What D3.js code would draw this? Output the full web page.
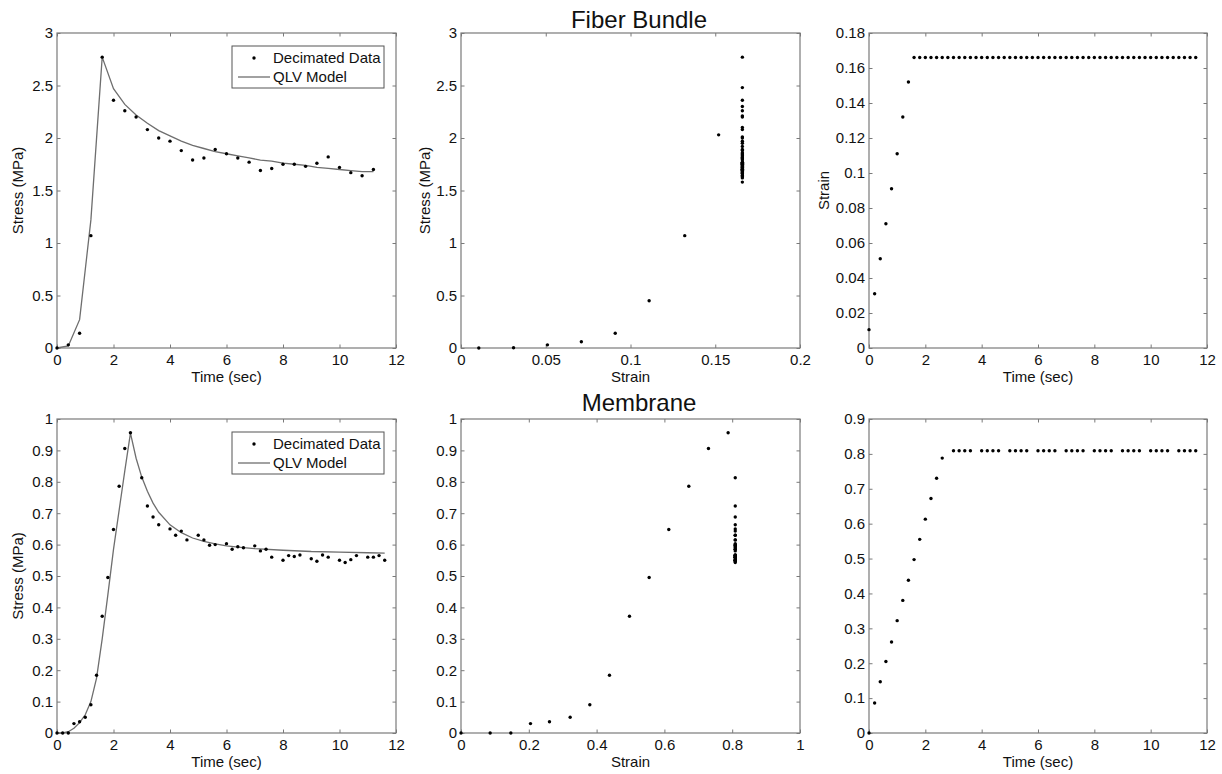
<!DOCTYPE html>
<html>
<head>
<meta charset="utf-8">
<script src="https://cdn.jsdelivr.net/npm/d3@7"></script>
<style>
    body { margin: 0; background: #fff; }
    svg text { font-family: Arial, "Liberation Sans", sans-serif; fill: #111; }
</style>
</head>
<body>
<div id="chart"></div>
<script>

// ---------- tick labels ----------
const timeTicks = [0, 2, 4, 6, 8, 10, 12];
const fiberStressTicks = [0, 0.5, 1, 1.5, 2, 2.5, 3];
const fiberStrainTicks = [0, 0.05, 0.1, 0.15, 0.2];
const fiberStrainYTicks = [0, 0.02, 0.04, 0.06, 0.08, 0.1, 0.12, 0.14, 0.16, 0.18];
const memStressTicks = [0, 0.1, 0.2, 0.3, 0.4, 0.5, 0.6, 0.7, 0.8, 0.9, 1];
const memStrainTicks = [0, 0.2, 0.4, 0.6, 0.8, 1];
const memStrainYTicks = [0, 0.1, 0.2, 0.3, 0.4, 0.5, 0.6, 0.7, 0.8, 0.9];

// ---------- fiber bundle ----------
// full record, sampled every 0.2 s
const fiberTime = [0, 0.2, 0.4, 0.6, 0.8, 1, 1.2, 1.4, 1.6, 1.8, 2, 2.2, 2.4, 2.6, 2.8, 3, 3.2, 3.4, 3.6, 3.8,
    4, 4.2, 4.4, 4.6, 4.8, 5, 5.2, 5.4, 5.6, 5.8, 6, 6.2, 6.4, 6.6, 6.8, 7, 7.2, 7.4, 7.6, 7.8,
    8, 8.2, 8.4, 8.6, 8.8, 9, 9.2, 9.4, 9.6, 9.8, 10, 10.2, 10.4, 10.6, 10.8, 11, 11.2, 11.4, 11.6];
const fiberStrain = [0.0105, 0.031, 0.051, 0.071, 0.091, 0.111, 0.132, 0.152,
    0.166, 0.166, 0.166, 0.166, 0.166, 0.166, 0.166, 0.166, 0.166, 0.166,
    0.166, 0.166, 0.166, 0.166, 0.166, 0.166, 0.166, 0.166, 0.166, 0.166,
    0.166, 0.166, 0.166, 0.166, 0.166, 0.166, 0.166, 0.166, 0.166, 0.166,
    0.166, 0.166, 0.166, 0.166, 0.166, 0.166, 0.166, 0.166, 0.166, 0.166,
    0.166, 0.166, 0.166, 0.166, 0.166, 0.166, 0.166, 0.166, 0.166, 0.166,
    0.166];
const fiberStress = [0, 0.002, 0.03, 0.06, 0.14, 0.45, 1.07, 2.03,
    2.77, 2.48, 2.36, 2.30, 2.26, 2.21, 2.20, 2.10, 2.08, 2.01,
    2.00, 1.95, 1.97, 1.92, 1.88, 1.86, 1.79, 1.84, 1.81, 1.83,
    1.89, 1.80, 1.85, 1.77, 1.81, 1.74, 1.77, 1.72, 1.69, 1.76,
    1.71, 1.66, 1.75, 1.70, 1.75, 1.68, 1.73, 1.64, 1.76, 1.70,
    1.82, 1.67, 1.72, 1.62, 1.67, 1.58, 1.64, 1.69, 1.70, 1.63,
    1.66];

// decimated data + QLV fit (every 0.4 s)
const fiberDecTime = [0, 0.4, 0.8, 1.2, 1.6, 2, 2.4, 2.8, 3.2, 3.6, 4, 4.4, 4.8, 5.2, 5.6,
    6, 6.4, 6.8, 7.2, 7.6, 8, 8.4, 8.8, 9.2, 9.6, 10, 10.4, 10.8, 11.2];
const fiberDecStress = [0, 0.03, 0.14, 1.07, 2.77, 2.36, 2.26, 2.20, 2.08, 2.00, 1.97, 1.88, 1.79, 1.81, 1.89,
    1.85, 1.81, 1.77, 1.69, 1.71, 1.75, 1.75, 1.73, 1.76, 1.82, 1.72, 1.67, 1.64, 1.70];
const fiberModel = [0, 0.02, 0.27, 1.22, 2.77, 2.47, 2.32, 2.22, 2.14, 2.07, 2.02, 1.97, 1.93, 1.90, 1.87,
    1.85, 1.83, 1.81, 1.79, 1.78, 1.76, 1.75, 1.74, 1.72, 1.71, 1.70, 1.69, 1.68, 1.68];

// ---------- membrane ----------
const memTime = [0, 0.2, 0.4, 0.6, 0.8, 1, 1.2, 1.4, 1.6, 1.8, 2, 2.2, 2.4, 2.6,
    3, 3.2, 3.4, 3.6, 4, 4.2, 4.4, 4.6, 5, 5.2, 5.4, 5.6, 6, 6.2, 6.4, 6.6,
    7, 7.2, 7.4, 7.6, 8, 8.2, 8.4, 8.6, 9, 9.2, 9.4, 9.6, 10, 10.2, 10.4, 10.6,
    11, 11.2, 11.4, 11.6];
const memStrain = [0, 0.086, 0.147, 0.205, 0.261, 0.322, 0.38, 0.438, 0.497, 0.555, 0.613, 0.672, 0.73, 0.788,
    0.809, 0.809, 0.809, 0.809, 0.809, 0.809, 0.809, 0.809, 0.809, 0.809, 0.809, 0.809,
    0.809, 0.809, 0.809, 0.809, 0.809, 0.809, 0.809, 0.809, 0.809, 0.809, 0.809, 0.809,
    0.809, 0.809, 0.809, 0.809, 0.809, 0.809, 0.809, 0.809, 0.809, 0.809, 0.809, 0.809];
const memStress = [0, 0, 0, 0.03, 0.036, 0.05, 0.09, 0.184, 0.372, 0.495, 0.648, 0.786, 0.906, 0.956,
    0.813, 0.723, 0.688, 0.663, 0.65, 0.63, 0.643, 0.615, 0.63, 0.615, 0.598, 0.6,
    0.603, 0.585, 0.593, 0.59, 0.596, 0.58, 0.585, 0.56, 0.55, 0.565, 0.562, 0.567,
    0.555, 0.547, 0.567, 0.56, 0.55, 0.543, 0.552, 0.565, 0.56, 0.56, 0.565, 0.55];
const memModelTime = [0, 0.2, 0.4, 0.6, 0.8, 1, 1.2, 1.4, 1.6, 1.8, 2, 2.2, 2.4, 2.6, 2.8, 3, 3.2, 3.4, 3.6,
    4, 4.4, 4.8, 5.2, 5.6, 6, 6.5, 7, 8, 9, 10, 11, 11.6];
const memModel = [0, 0, 0.004, 0.015, 0.033, 0.058, 0.1, 0.175, 0.3, 0.44, 0.585, 0.71, 0.835, 0.955, 0.875, 0.815, 0.77, 0.732, 0.703,
    0.663, 0.638, 0.621, 0.61, 0.602, 0.596, 0.591, 0.587, 0.582, 0.578, 0.576, 0.574, 0.573];

const zip = (xs, ys) => xs.map((x, i) => [x, ys[i]]);


/* * * * * * * * * * * * * *
*      class PanelVis      *
* * * * * * * * * * * * * */

class PanelVis {

    constructor(svg, opts){
        this.svg = svg;
        this.opts = opts;
        this.initVis();
    }

    initVis(){
        let vis = this;
        let o = vis.opts;

        vis.width = o.right - o.left;
        vis.height = o.bottom - o.top;

        vis.g = vis.svg.append("g")
            .attr("transform", `translate(${o.left}, ${o.top})`);

        vis.x = d3.scaleLinear().domain(o.xDomain).range([0, vis.width]);
        vis.y = d3.scaleLinear().domain(o.yDomain).range([vis.height, 0]);

        let fmt = d => String(+d.toFixed(3));
        let tick = 3.5;

        vis.xAxis = d3.axisBottom(vis.x).tickValues(o.xTicks).tickFormat(fmt)
            .tickSizeInner(-tick).tickSizeOuter(0).tickPadding(6);
        vis.yAxis = d3.axisLeft(vis.y).tickValues(o.yTicks).tickFormat(fmt)
            .tickSizeInner(-tick).tickSizeOuter(0).tickPadding(4);
        vis.xTop = d3.axisTop(vis.x).tickValues(o.xTicks).tickFormat("")
            .tickSizeInner(-tick).tickSizeOuter(0);
        vis.yRight = d3.axisRight(vis.y).tickValues(o.yTicks).tickFormat("")
            .tickSizeInner(-tick).tickSizeOuter(0);

        let style = g => {
            g.select(".domain").remove();
            g.selectAll(".tick line").attr("stroke", "#7a7a7a");
            g.selectAll(".tick text").attr("font-size", "15px").attr("fill", "#111");
        };

        vis.g.append("g").attr("transform", `translate(0, ${vis.height})`).call(vis.xAxis).call(style);
        vis.g.append("g").call(vis.yAxis).call(style);
        vis.g.append("g").call(vis.xTop).call(style);
        vis.g.append("g").attr("transform", `translate(${vis.width}, 0)`).call(vis.yRight).call(style);

        // box
        vis.g.append("rect")
            .attr("width", vis.width)
            .attr("height", vis.height)
            .attr("fill", "none")
            .attr("stroke", "#7a7a7a")
            .attr("stroke-width", 1.2);

        if (o.xLabel){
            vis.g.append("text")
                .attr("x", vis.width / 2)
                .attr("y", vis.height + 34)
                .attr("text-anchor", "middle")
                .attr("font-size", "15px")
                .text(o.xLabel);
        }
        if (o.yLabel){
            vis.g.append("text")
                .attr("transform", `translate(${o.yLabelX}, ${vis.height / 2}) rotate(-90)`)
                .attr("dy", "0.35em")
                .attr("text-anchor", "middle")
                .attr("font-size", "15px")
                .text(o.yLabel);
        }

        vis.updateVis();
    }

    updateVis(){
        let vis = this;
        let o = vis.opts;

        if (o.line){
            let line = d3.line()
                .x(d => vis.x(d[0]))
                .y(d => vis.y(d[1]));
            vis.g.append("path")
                .datum(o.line)
                .attr("fill", "none")
                .attr("stroke", "#6e6e6e")
                .attr("stroke-width", 1.3)
                .attr("d", line);
        }

        vis.g.selectAll("circle.dot")
            .data(o.dots)
            .enter().append("circle")
            .attr("class", "dot")
            .attr("cx", d => vis.x(d[0]))
            .attr("cy", d => vis.y(d[1]))
            .attr("r", 1.7)
            .attr("fill", "#000");

        if (o.legend){
            let lg = vis.g.append("g").attr("transform", "translate(175, 13)");
            lg.append("rect")
                .attr("width", 152).attr("height", 42)
                .attr("fill", "#fff")
                .attr("stroke", "#555")
                .attr("stroke-width", 1);
            lg.append("circle")
                .attr("cx", 22).attr("cy", 12).attr("r", 1.7).attr("fill", "#000");
            lg.append("text")
                .attr("x", 41).attr("y", 12).attr("dy", "0.35em")
                .attr("font-size", "15px")
                .text("Decimated Data");
            lg.append("line")
                .attr("x1", 6).attr("x2", 38).attr("y1", 31).attr("y2", 31)
                .attr("stroke", "#6e6e6e").attr("stroke-width", 1.3);
            lg.append("text")
                .attr("x", 41).attr("y", 31).attr("dy", "0.35em")
                .attr("font-size", "15px")
                .text("QLV Model");
        }
    }
}


// ---------- build the figure ----------
let svg = d3.select("#chart").append("svg")
    .attr("width", 1222)
    .attr("height", 774);

const cols = [[57, 396], [461, 800], [869, 1207]];
const rows = [[33, 348], [419, 733]];

let panels = [
    // fiber bundle
    {c: 0, r: 0, xDomain: [0, 12], yDomain: [0, 3], xTicks: timeTicks, yTicks: fiberStressTicks,
        xLabel: "Time (sec)", yLabel: "Stress (MPa)", yLabelX: -39,
        dots: zip(fiberDecTime, fiberDecStress), line: zip(fiberDecTime, fiberModel), legend: true},
    {c: 1, r: 0, xDomain: [0, 0.2], yDomain: [0, 3], xTicks: fiberStrainTicks, yTicks: fiberStressTicks,
        xLabel: "Strain", yLabel: "Stress (MPa)", yLabelX: -36,
        dots: zip(fiberStrain, fiberStress)},
    {c: 2, r: 0, xDomain: [0, 12], yDomain: [0, 0.18], xTicks: timeTicks, yTicks: fiberStrainYTicks,
        xLabel: "Time (sec)", yLabel: "Strain", yLabelX: -45,
        dots: zip(fiberTime, fiberStrain)},
    // membrane
    {c: 0, r: 1, xDomain: [0, 12], yDomain: [0, 1], xTicks: timeTicks, yTicks: memStressTicks,
        xLabel: "Time (sec)", yLabel: "Stress (MPa)", yLabelX: -39,
        dots: zip(memTime, memStress), line: zip(memModelTime, memModel), legend: true},
    {c: 1, r: 1, xDomain: [0, 1], yDomain: [0, 1], xTicks: memStrainTicks, yTicks: memStressTicks,
        xLabel: "Strain",
        dots: zip(memStrain, memStress)},
    {c: 2, r: 1, xDomain: [0, 12], yDomain: [0, 0.9], xTicks: timeTicks, yTicks: memStrainYTicks,
        xLabel: "Time (sec)",
        dots: zip(memTime, memStrain)}
];

panels.forEach(p => {
    p.left = cols[p.c][0];
    p.right = cols[p.c][1];
    p.top = rows[p.r][0];
    p.bottom = rows[p.r][1];
    new PanelVis(svg, p);
});

// row titles
svg.append("text")
    .attr("x", 639).attr("y", 28)
    .attr("text-anchor", "middle")
    .attr("font-size", "24px")
    .text("Fiber Bundle");

svg.append("text")
    .attr("x", 639).attr("y", 411)
    .attr("text-anchor", "middle")
    .attr("font-size", "24px")
    .text("Membrane");

</script>
</body>
</html>
